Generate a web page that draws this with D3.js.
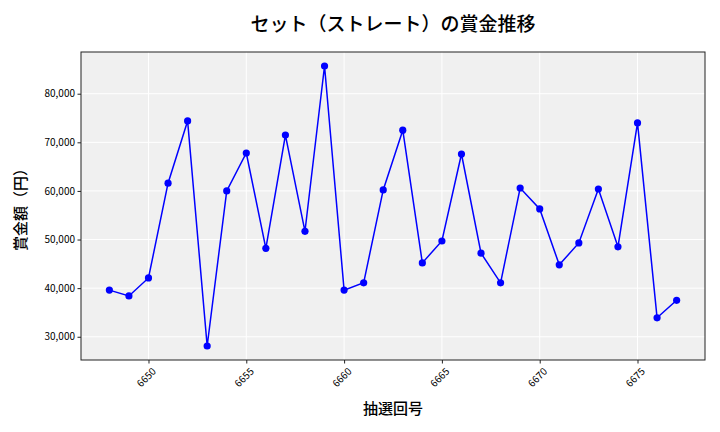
<!DOCTYPE html>
<html><head><meta charset="utf-8">
<script src="https://cdn.jsdelivr.net/npm/d3@7"></script>
<style>body{margin:0;background:#fff}svg{display:block}text{font-family:"Noto Sans CJK JP","DejaVu Sans",sans-serif}</style>
</head><body><svg id="c" width="720" height="432"></svg>
<script>
const draws = [6648,6649,6650,6651,6652,6653,6654,6655,6656,6657,6658,6659,6660,6661,6662,6663,6664,6665,6666,6667,6668,6669,6670,6671,6672,6673,6674,6675,6676,6677];
const prizes = [39600,38400,42100,61600,74400,28100,60000,67800,48200,71500,51700,85700,39600,41100,60200,72500,45200,49700,67600,47200,41100,60600,56300,44800,49300,60400,48500,74000,33900,37500];
const xTicks = [6650,6655,6660,6665,6670,6675];
const yTicks = [30000,40000,50000,60000,70000,80000];
const title = "セット（ストレート）の賞金推移";
const xLabel = "抽選回号";
const yLabel = "賞金額（円）";

const svg = d3.select("#c");
const L=81,R=705,T=52,B=360;
const xmin=d3.min(draws),xmax=d3.max(draws),xpad=(xmax-xmin)*0.05;
const ymin=d3.min(prizes),ymax=d3.max(prizes),ypad=(ymax-ymin)*0.05;
const x=d3.scaleLinear().domain([xmin-xpad,xmax+xpad]).range([L,R]);
const y=d3.scaleLinear().domain([ymin-ypad,ymax+ypad]).range([B,T]);

svg.append("rect").attr("x",L).attr("y",T).attr("width",R-L).attr("height",B-T).attr("fill","#f0f0f0");
const g=svg.append("g");
g.selectAll(".gx").data(xTicks).join("line").attr("x1",d=>x(d)).attr("x2",d=>x(d)).attr("y1",T).attr("y2",B).attr("stroke","#fff").attr("stroke-width",1);
g.selectAll(".gy").data(yTicks).join("line").attr("y1",d=>y(d)).attr("y2",d=>y(d)).attr("x1",L).attr("x2",R).attr("stroke","#fff").attr("stroke-width",1);

const line=d3.line().x((d,i)=>x(draws[i])).y(d=>y(d));
svg.append("path").datum(prizes).attr("d",line).attr("fill","none").attr("stroke","#0000ff").attr("stroke-width",1.5);
svg.selectAll(".pt").data(prizes).join("circle").attr("cx",(d,i)=>x(draws[i])).attr("cy",d=>y(d)).attr("r",3.6).attr("fill","#0000ff");

svg.append("rect").attr("x",L).attr("y",T).attr("width",R-L).attr("height",B-T).attr("fill","none").attr("stroke","#222").attr("stroke-width",1);

const xa=svg.append("g").attr("transform",`translate(0,${B})`).call(d3.axisBottom(x).tickValues(xTicks).tickSize(3.5).tickFormat(d3.format("d")));
xa.select(".domain").remove();
xa.selectAll("line").attr("stroke","#222");
xa.selectAll("text").attr("font-size",10).attr("fill","#000").attr("text-anchor","middle")
  .attr("dy",null).attr("y",null).attr("transform","translate(-2,18) rotate(-45)").attr("dominant-baseline","middle");

const ya=svg.append("g").attr("transform",`translate(${L},0)`).call(d3.axisLeft(y).tickValues(yTicks).tickSize(3.5).tickFormat(d3.format(",")));
ya.select(".domain").remove();
ya.selectAll("line").attr("stroke","#222");
ya.selectAll("text").attr("font-size",10).attr("fill","#000").attr("x",-6);

svg.append("text").attr("x",393).attr("y",31).attr("text-anchor","middle").attr("font-size",19).attr("font-weight",500).text(title);
svg.append("text").attr("x",393).attr("y",414).attr("text-anchor","middle").attr("font-size",15).attr("font-weight",500).text(xLabel);
svg.append("text").attr("transform","translate(26,206) rotate(-90)").attr("text-anchor","middle").attr("font-size",15).attr("font-weight",500).text(yLabel);
</script></body></html>
